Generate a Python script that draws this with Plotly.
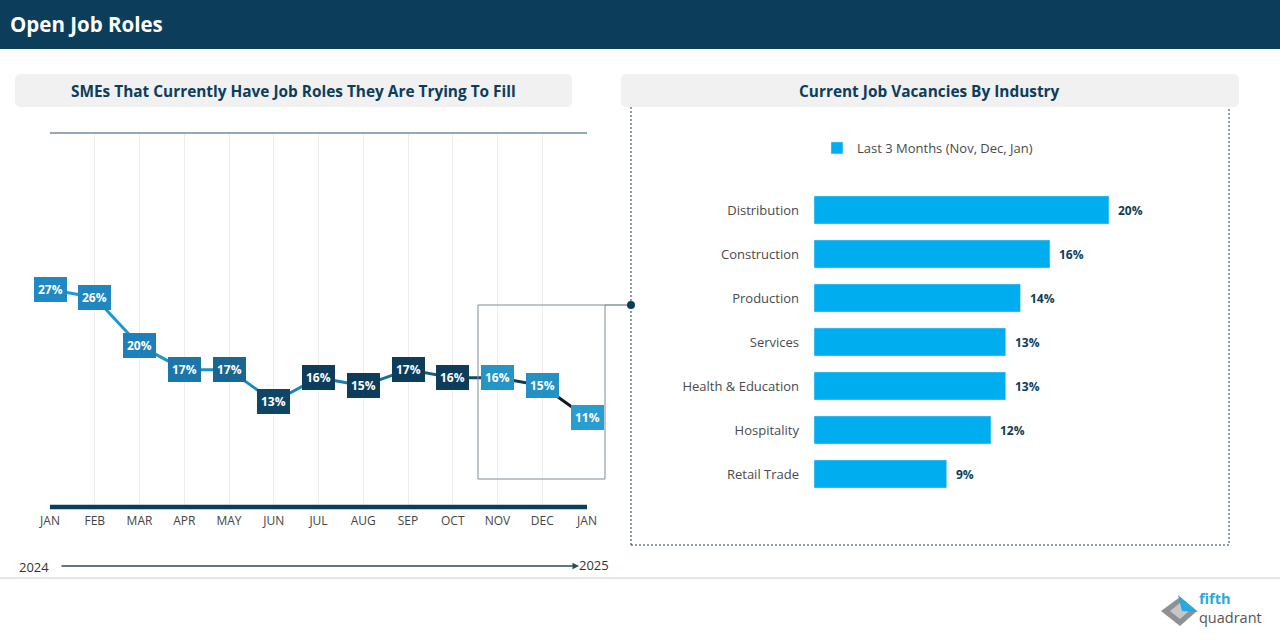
import plotly.graph_objects as go

# ---------------- data ----------------
months = ["JAN", "FEB", "MAR", "APR", "MAY", "JUN", "JUL", "AUG", "SEP", "OCT", "NOV", "DEC", "JAN"]
sme_share = [27, 26, 20, 17, 17, 13, 16, 15, 17, 16, 16, 15, 11]

industries = ["Distribution", "Construction", "Production", "Services",
              "Health & Education", "Hospitality", "Retail Trade"]
vacancies = [20, 16, 14, 13, 13, 12, 9]
legend_name = "Last 3 Months (Nov, Dec, Jan)"

# ---------------- styles ----------------
NAVY = "#0c3d5a"
label_colors = ["#2089c3", "#1f86bf", "#1e80b8", "#1c76aa", "#1a6690", "#0f4667",
                "#0d3d5a", "#0d3d5a", "#0d3d5a", "#0d3d5a", "#2595c7", "#2391c3", "#2a9dd0"]
seg_colors = ["#1e9ad0", "#1e98cd", "#1d94c9", "#1c8fc3", "#1b89bc", "#1a84b5",
              "#1a7cab", "#1b6f98", "#175a7c", "#124a66", "#0f3a50", "#111a22"]

W, H = 1280, 643
def X(px):
    return px / W
def Y(py):
    return 1 - py / H

fig = go.Figure()

# line chart segments
idx = list(range(len(months)))
for i in range(len(idx) - 1):
    fig.add_trace(go.Scatter(
        x=idx[i:i + 2], y=sme_share[i:i + 2], mode="lines",
        line=dict(color=seg_colors[i], width=3), xaxis="x", yaxis="y",
        showlegend=False, hoverinfo="skip"))

# bar chart
fig.add_trace(go.Bar(
    x=vacancies, y=industries, orientation="h", marker_color="#00adee",
    name=legend_name, xaxis="x2", yaxis="y2", showlegend=True,
    hovertemplate="%{y}: %{x}%<extra></extra>"))

annotations = []
# line labels
for i, v in enumerate(sme_share):
    annotations.append(dict(
        x=idx[i], y=v, xref="x", yref="y", text=f"<b>{v}%</b>", showarrow=False,
        xanchor="center", yanchor="middle",
        font=dict(family="Open Sans", size=12, color="white"),
        bgcolor=label_colors[i], bordercolor=label_colors[i], borderwidth=1, borderpad=3))
# bar labels
for name, v in zip(industries, vacancies):
    annotations.append(dict(
        x=v, y=name, xref="x2", yref="y2", text=f"<b>{v}%</b>", showarrow=False,
        xanchor="left", yanchor="middle", xshift=7,
        font=dict(family="Open Sans", size=12, color=NAVY)))

def ptext(x, y, text, size, color, xanchor="center"):
    return dict(x=X(x), y=Y(y), xref="paper", yref="paper", text=text, showarrow=False,
                xanchor=xanchor, yanchor="middle", font=dict(family="Open Sans", size=size, color=color))

annotations += [
    ptext(8, 24, "<b>Open Job Roles</b>", 20.5, "white", "left"),
    ptext(293, 91, "<b>SMEs That Currently Have Job Roles They Are Trying To Fill</b>", 15.4, NAVY),
    ptext(929, 91, "<b>Current Job Vacancies By Industry</b>", 15.4, NAVY),
    ptext(17, 567, "2024", 13, "#333", "left"),
    ptext(577, 565, "2025", 13, "#333", "left"),
    dict(x=X(579), y=Y(566), xref="paper", yref="paper", ax=-519, ay=0, axref="pixel", ayref="pixel",
         text="", showarrow=True, arrowhead=2, arrowsize=1, arrowwidth=1.3, arrowcolor="#2e4a5a"),
    dict(x=X(1197), y=Y(608), xref="paper", yref="paper",
         text="<span style='color:#29a8e0'><b>fifth</b></span><br><span style='color:#555'>quadrant</span>",
         showarrow=False, xanchor="left", yanchor="middle", align="left",
         font=dict(family="Open Sans", size=14.5, color="#555")),
]

def rounded(x0, y0, x1, y1, r):
    return (f"M {X(x0 + r)} {Y(y0)} L {X(x1 - r)} {Y(y0)} Q {X(x1)} {Y(y0)} {X(x1)} {Y(y0 + r)} "
            f"L {X(x1)} {Y(y1 - r)} Q {X(x1)} {Y(y1)} {X(x1 - r)} {Y(y1)} "
            f"L {X(x0 + r)} {Y(y1)} Q {X(x0)} {Y(y1)} {X(x0)} {Y(y1 - r)} "
            f"L {X(x0)} {Y(y0 + r)} Q {X(x0)} {Y(y0)} {X(x0 + r)} {Y(y0)} Z")

shapes = [
    dict(type="rect", xref="paper", yref="paper", x0=0, x1=1, y0=Y(49), y1=1,
         fillcolor=NAVY, line_width=0, layer="below"),
    dict(type="rect", xref="paper", yref="paper", x0=X(631), x1=X(1229), y0=Y(545), y1=Y(100),
         line=dict(color="#1f3f52", width=1, dash="2px,2px"), layer="below"),
    dict(type="path", path=rounded(15, 74, 572, 107, 6), xref="paper", yref="paper",
         fillcolor="#f1f1f1", line_width=0, layer="below"),
    dict(type="path", path=rounded(621, 74, 1239, 107, 6), xref="paper", yref="paper",
         fillcolor="#f1f1f1", line_width=0, layer="below"),
    dict(type="line", xref="x domain", yref="paper", x0=0, x1=1, y0=Y(133), y1=Y(133),
         line=dict(color="#2b5468", width=1.2)),
    dict(type="line", xref="x domain", yref="paper", x0=0, x1=1, y0=Y(507), y1=Y(507),
         line=dict(color=NAVY, width=4.5)),
    dict(type="rect", xref="paper", yref="paper", x0=X(478), x1=X(605), y0=Y(479), y1=Y(305),
         line=dict(color="#7d8c96", width=1)),
    dict(type="line", xref="paper", yref="paper", x0=X(605), x1=X(631), y0=Y(305), y1=Y(305),
         line=dict(color="#4b5f6b", width=1)),
    dict(type="circle", xref="paper", yref="paper", x0=X(627), x1=X(635), y0=Y(309), y1=Y(301),
         fillcolor=NAVY, line_width=0),
    dict(type="line", xref="paper", yref="paper", x0=0, x1=1, y0=Y(578), y1=Y(578),
         line=dict(color="#dcdcdc", width=1.5)),
    dict(type="path", xref="paper", yref="paper",
         path=f"M {X(1161)} {Y(611)} L {X(1180)} {Y(597)} L {X(1197)} {Y(611)} L {X(1180)} {Y(626)} Z",
         fillcolor="#8e9194", line_width=0),
    dict(type="path", xref="paper", yref="paper",
         path=f"M {X(1170)} {Y(611)} L {X(1180)} {Y(603)} L {X(1189)} {Y(611)} L {X(1180)} {Y(619)} Z",
         fillcolor="#c4c6c8", line_width=0),
    dict(type="path", xref="paper", yref="paper",
         path=f"M {X(1178)} {Y(595)} L {X(1198)} {Y(612)} L {X(1182)} {Y(611)} Z",
         fillcolor="#29a8e0", line_width=0),
]

fig.update_layout(
    width=W, height=H, margin=dict(l=0, r=0, t=0, b=0, autoexpand=False),
    paper_bgcolor="white", plot_bgcolor="white",
    font=dict(family="Open Sans", color="#444"),
    xaxis=dict(domain=[X(50), X(587)], range=[0, 12], tickvals=idx, ticktext=months,
               showgrid=True, gridcolor="#ececec", gridwidth=1, zeroline=False, showline=False,
               ticks="", tickfont=dict(family="Open Sans", size=12, color="#444"),
               ticklabelstandoff=6, fixedrange=True, automargin=False),
    yaxis=dict(domain=[Y(506), Y(133)], range=[0, 46.5], visible=False, fixedrange=True,
               automargin=False),
    xaxis2=dict(domain=[X(814), X(814 + 14.75 * 25)], range=[0, 25], visible=False,
                anchor="y2", fixedrange=True, automargin=False),
    yaxis2=dict(domain=[Y(496), Y(188)], anchor="x2", autorange="reversed",
                showgrid=False, showline=False, ticks="", ticklabelstandoff=14,
                tickfont=dict(family="Open Sans", size=13, color="#4a4a4a"), fixedrange=True,
                automargin=False),
    bargap=0.36,
    showlegend=True,
    legend=dict(x=X(817), y=Y(133), xanchor="left", yanchor="top", orientation="h",
                font=dict(family="Open Sans", size=13, color="#4a4a4a"),
                bgcolor="rgba(0,0,0,0)", itemwidth=30),
    annotations=annotations,
    shapes=shapes,
)

fig.write_html("out.html", config={"displayModeBar": False},
               post_script="document.body.style.margin='0px';document.body.style.overflow='hidden';")
